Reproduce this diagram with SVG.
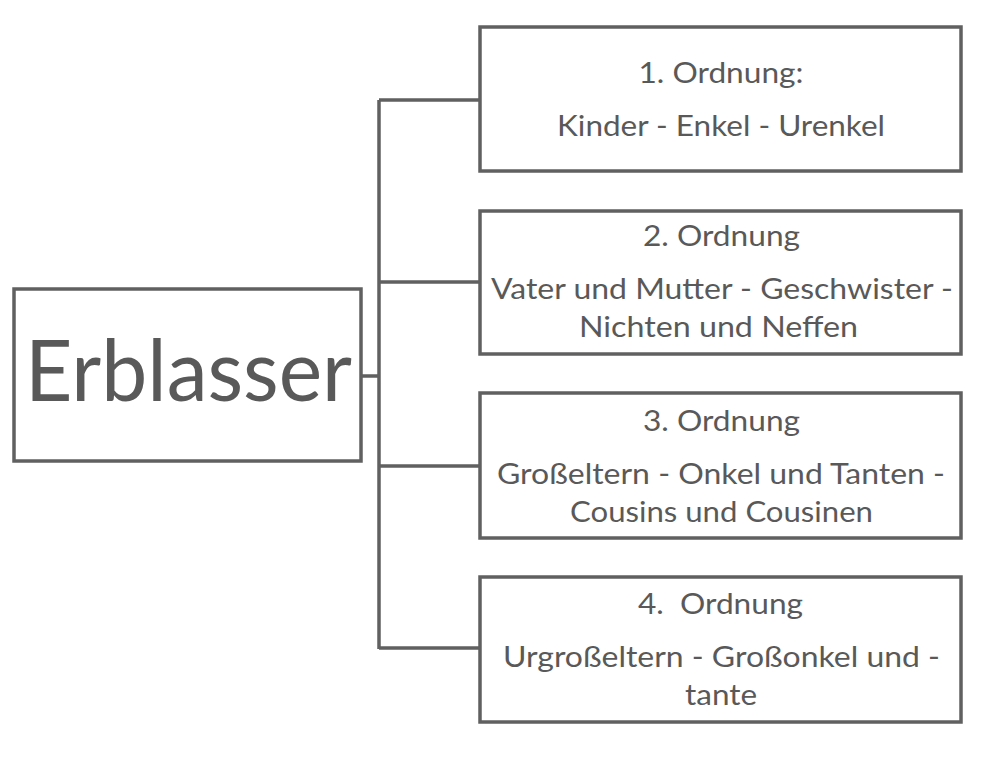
<svg xmlns="http://www.w3.org/2000/svg" width="992" height="758" viewBox="0 0 992 758">
<style>
.box{fill:#ffffff;stroke:#606060;stroke-width:3.5}
.conn{fill:none;stroke:#606060;stroke-width:3.5}
text{font-family:Lato,"Liberation Sans",sans-serif;fill:#595959;text-anchor:middle}
.t{font-size:29px}
.big{font-size:86px}
</style>
<rect width="992" height="758" fill="#ffffff"/>
<g id="connectors">
<path class="conn" d="M362 376 H379 M379 100 V649 M379 100 H480 M379 282 H480 M379 466 H480 M379 648 H480"/>
</g>
<g id="erblasser">
<rect class="box" x="14" y="289" width="347" height="172"/>
<text class="big" x="188.5" y="401" textLength="327" lengthAdjust="spacingAndGlyphs">Erblasser</text>
</g>
<g id="ordnung1">
<rect class="box" x="480" y="27" width="481" height="144"/>
<text class="t" x="721" y="83" textLength="165" lengthAdjust="spacingAndGlyphs">1. Ordnung:</text>
<text class="t" x="721" y="136" textLength="328" lengthAdjust="spacingAndGlyphs">Kinder - Enkel - Urenkel</text>
</g>
<g id="ordnung2">
<rect class="box" x="480" y="211" width="481" height="143"/>
<text class="t" x="721.5" y="246" textLength="157" lengthAdjust="spacingAndGlyphs">2. Ordnung</text>
<text class="t" x="722" y="299" textLength="462" lengthAdjust="spacingAndGlyphs">Vater und Mutter - Geschwister -</text>
<text class="t" x="718.5" y="337" textLength="279" lengthAdjust="spacingAndGlyphs">Nichten und Neffen</text>
</g>
<g id="ordnung3">
<rect class="box" x="480" y="393" width="481" height="145"/>
<text class="t" x="721.5" y="431" textLength="157" lengthAdjust="spacingAndGlyphs">3. Ordnung</text>
<text class="t" x="721" y="484" textLength="448" lengthAdjust="spacingAndGlyphs">Großeltern - Onkel und Tanten -</text>
<text class="t" x="721.5" y="522" textLength="303" lengthAdjust="spacingAndGlyphs">Cousins und Cousinen</text>
</g>
<g id="ordnung4">
<rect class="box" x="480" y="577" width="481" height="145"/>
<text class="t" x="720.5" y="614" textLength="165" lengthAdjust="spacingAndGlyphs" style="white-space:pre">4.  Ordnung</text>
<text class="t" x="721.5" y="667" textLength="437" lengthAdjust="spacingAndGlyphs">Urgroßeltern - Großonkel und -</text>
<text class="t" x="721" y="705" textLength="72" lengthAdjust="spacingAndGlyphs">tante</text>
</g>
</svg>
